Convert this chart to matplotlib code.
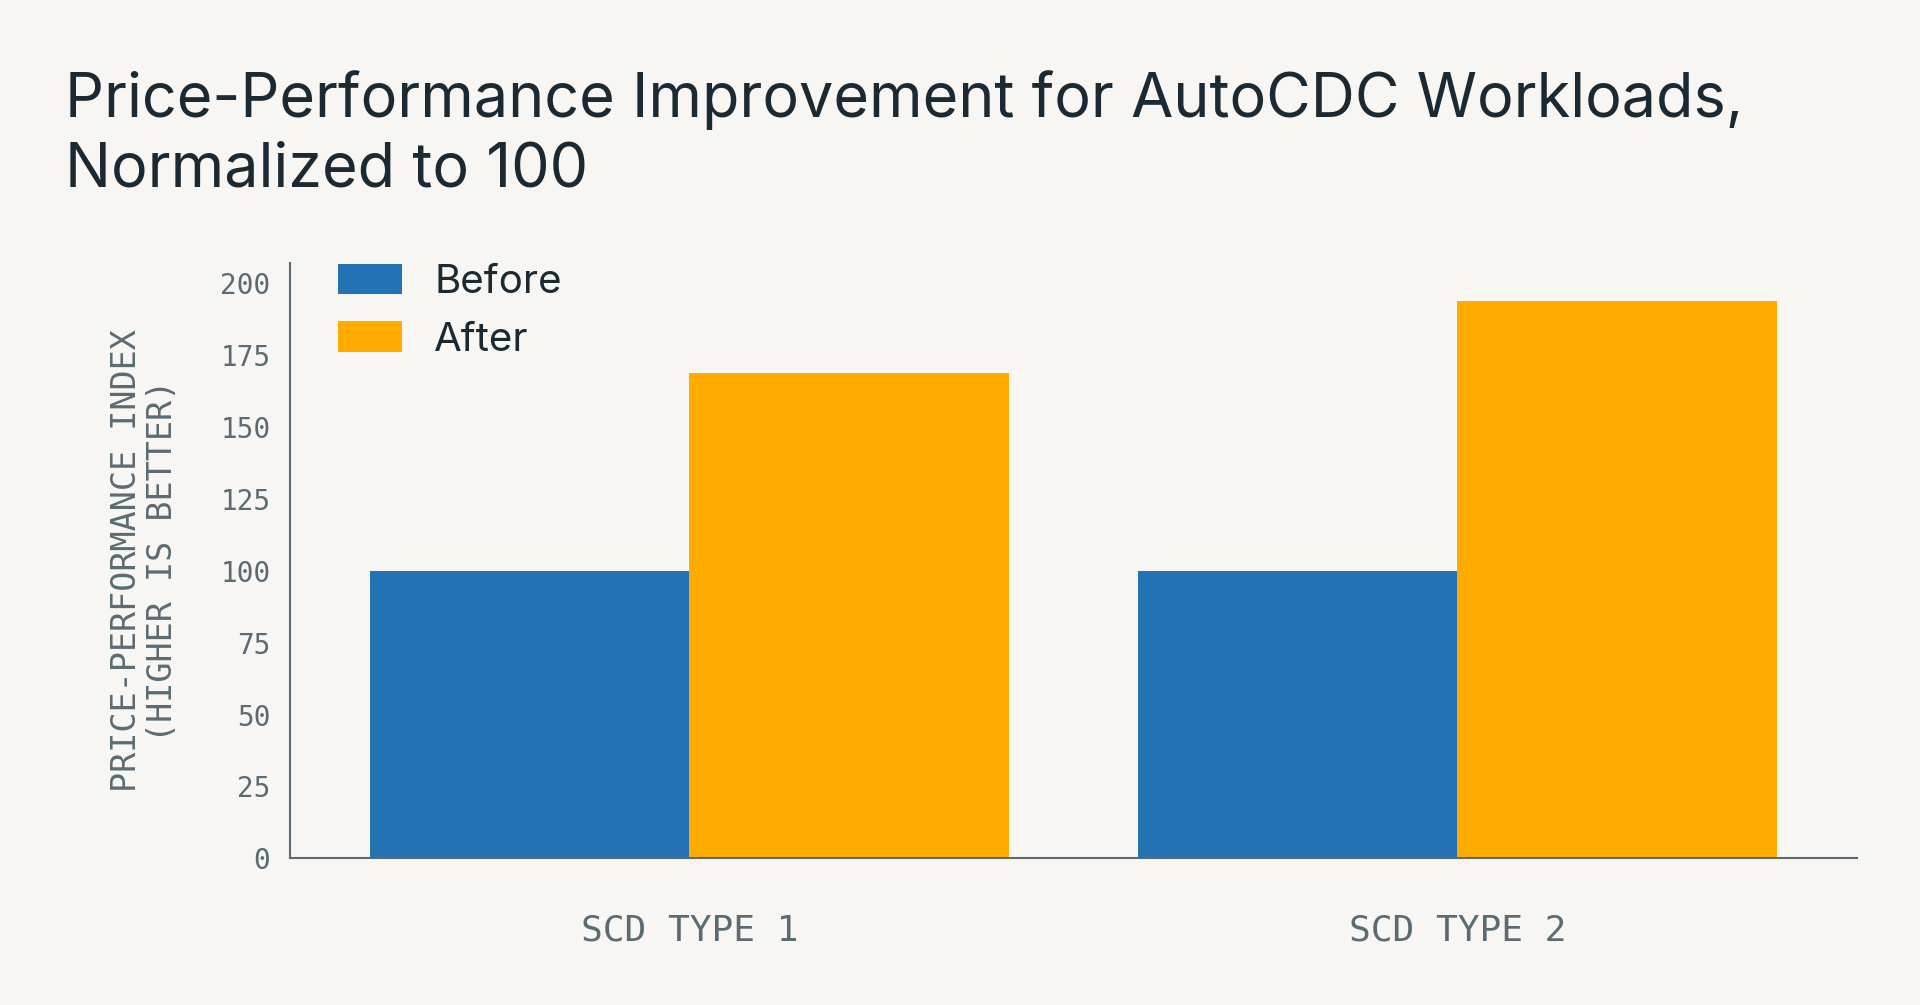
import matplotlib.pyplot as plt
import numpy as np

categories = ["SCD TYPE 1", "SCD TYPE 2"]
before = [100, 100]
after = [169, 194]
yticks = [0, 25, 50, 75, 100, 125, 150, 175, 200]

bg = "#f8f6f2"
blue = "#2474b5"
orange = "#ffab00"
gray = "#5b6b73"

fig = plt.figure(figsize=(19.2, 10.05), dpi=100, facecolor=bg)
ax = fig.add_axes([0.151, 0.146, 0.816, 0.592], facecolor=bg)

x = np.arange(len(categories))
w = 0.416
ax.bar(x - w / 2, before, w, color=blue, label="Before")
ax.bar(x + w / 2, after, w, color=orange, label="After")

ax.set_xlim(-0.52, 1.52)
ax.set_ylim(0, 207)
ax.set_yticks(yticks)
ax.set_yticklabels([str(t) for t in yticks], family="DejaVu Sans Mono", fontsize=20, color=gray)
ax.set_xticks(x)
ax.set_xticklabels(categories, family="DejaVu Sans Mono", fontsize=26, color=gray)
ax.tick_params(axis="both", length=0, pad=14)
ax.tick_params(axis="x", pad=40)
for s in ["top", "right"]:
    ax.spines[s].set_visible(False)
for s in ["left", "bottom"]:
    ax.spines[s].set_color(gray)
    ax.spines[s].set_linewidth(1.5)

ax.set_ylabel("PRICE-PERFORMANCE INDEX\n(HIGHER IS BETTER)", family="DejaVu Sans Mono",
              fontsize=24, color=gray, labelpad=30, linespacing=1.1)

leg = ax.legend(loc="upper left", frameon=False, fontsize=29, prop={"family": "Inter", "size": 29},
                handlelength=1.6, handleheight=0.8, borderaxespad=0.2, labelspacing=0.5,
                bbox_to_anchor=(0.015, 1.04))
for t in leg.get_texts():
    t.set_color("#1b2a32")

fig.text(0.034, 0.93, "Price-Performance Improvement for AutoCDC Workloads,\nNormalized to 100",
         family="Inter", fontsize=44, color="#1b2a32", va="top", linespacing=1.25)

fig.savefig("out.png", dpi=100, facecolor=bg)
